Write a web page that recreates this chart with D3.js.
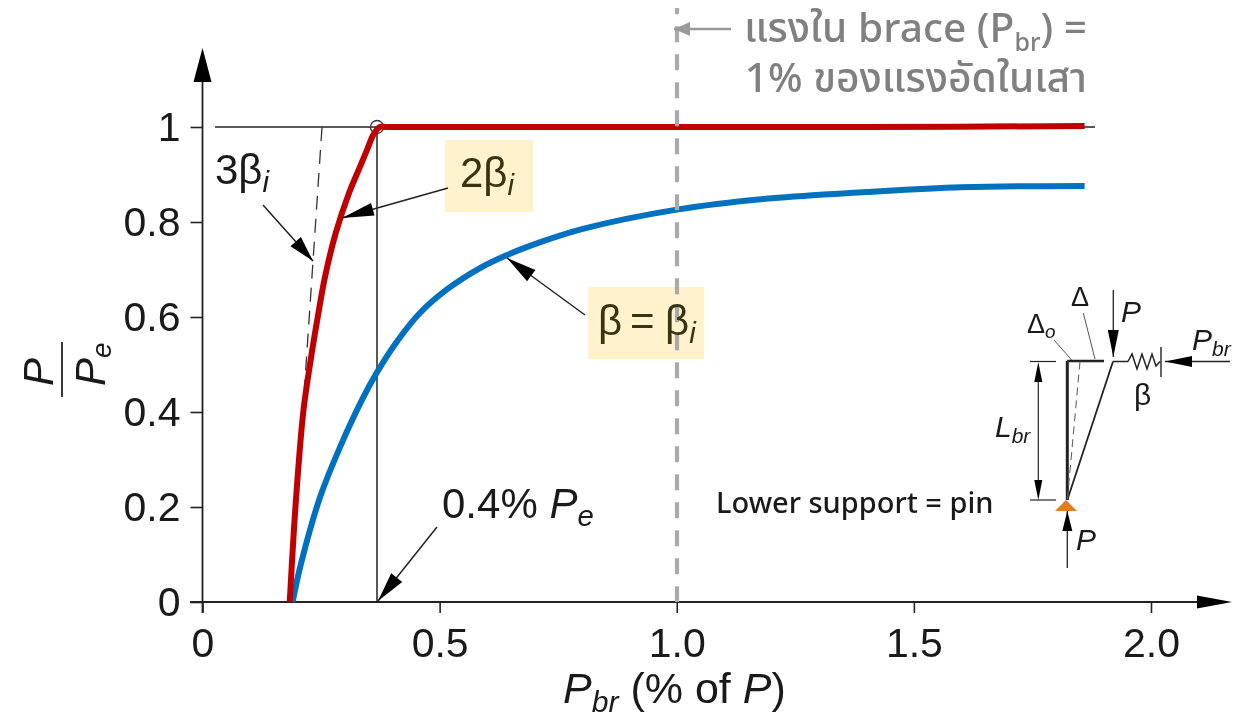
<!DOCTYPE html>
<html><head><meta charset="utf-8">
<script src="https://cdn.jsdelivr.net/npm/d3@7/dist/d3.min.js"></script>
<style>html,body{margin:0;padding:0;background:#fff}svg{display:block;filter:blur(.35px)}text{font-family:"Liberation Sans",Arial,sans-serif;fill:#1a1a1a}.th{font-family:"Noto Sans","Noto Sans Thai",Lato,sans-serif}.lat{font-family:"Noto Sans",Lato,sans-serif}</style>
</head><body><svg id="c" width="1247" height="718"></svg>
<script>
const xTicks=[0,0.5,1.0,1.5,2.0];
const xTickLabels=["0","0.5","1.0","1.5","2.0"];
const yTicks=[0,0.2,0.4,0.6,0.8,1];
const yTickLabels=["0","0.2","0.4","0.6","0.8","1"];
const redX=[0.184,0.196,0.2125,0.228,0.243,0.258,0.281,0.309,0.332,0.347,0.361,0.374,0.39,0.6,1.0,1.4,1.86];
const redY=[0,0.2,0.40,0.509,0.60,0.683,0.777,0.861,0.916,0.952,0.985,1,1,1,1,1,1.002];
const blueX=[0.19,0.208,0.248,0.29,0.336,0.367,0.409,0.458,0.514,0.585,0.641,0.711,0.8,1.0,1.2,1.4,1.6,1.86];
const blueY=[0,0.082,0.221,0.326,0.425,0.482,0.547,0.608,0.657,0.703,0.73,0.757,0.785,0.826,0.85,0.863,0.873,0.876];
const dashed3X=[0.252,0.215];
const dashed3Y=[1,0.45];

const svg=d3.select("#c");
const x=d3.scaleLinear().domain([0,2]).range([202.5,1151]);
const y=d3.scaleLinear().domain([0,1]).range([602,127]);
const ink="#222", big=42, olive="#3a3210";
function ln(x1,y1,x2,y2,w,c,dash){const l=svg.append("line").attr("x1",x1).attr("y1",y1).attr("x2",x2).attr("y2",y2).attr("stroke",c||ink).attr("stroke-width",w||1.5);if(dash)l.attr("stroke-dasharray",dash);return l;}
function head(x1,y1,x2,y2,len,hw,c){const a=Math.atan2(y2-y1,x2-x1),bx=x2-len*Math.cos(a),by=y2-len*Math.sin(a),nx=-Math.sin(a)*hw,ny=Math.cos(a)*hw;
 svg.append("path").attr("d",d3.line()([[x2,y2],[bx+nx,by+ny],[bx-nx,by-ny]])+"Z").attr("fill",c||"#000");}
function arrow(x1,y1,x2,y2,w,len,hw,c){ln(x1,y1,x2,y2,w,c);head(x1,y1,x2,y2,len,hw,c);}
function txt(px,py,parts,size,anchor,fill){const t=svg.append("text").attr("x",px).attr("y",py).attr("font-size",size).attr("text-anchor",anchor||"start");if(fill)t.style("fill",fill);
 parts.forEach(p=>{const s=t.append("tspan").text(p.t);if(p.i)s.attr("font-style","italic");if(p.sub)s.attr("font-size",size*0.7).attr("dy",size*0.2);if(p.up)s.attr("dy",-size*0.2);if(fill)s.style("fill",fill);});return t;}

// highlight boxes
svg.append("rect").attr("x",445).attr("y",140).attr("width",88).attr("height",72).attr("fill","#FFF2CC");
svg.append("rect").attr("x",588).attr("y",287).attr("width",116).attr("height",72).attr("fill","#FFF2CC");

// guides
ln(215,y(1),1095,y(1),1.5);
ln(377,y(1),377,y(0),1.5);
svg.append("path").attr("d",d3.line().x(d=>x(d[0])).y(d=>y(d[1]))(d3.zip(dashed3X,dashed3Y))).attr("fill","none").attr("stroke","#333").attr("stroke-width",1.3).attr("stroke-dasharray","14 9");
svg.append("circle").attr("cx",377).attr("cy",y(1)).attr("r",6.5).attr("fill","none").attr("stroke","#333").attr("stroke-width",1.3);

// axes
const gx=svg.append("g").attr("transform",`translate(0,${y(0)})`).call(d3.axisBottom(x).tickValues(xTicks).tickFormat((d,i)=>xTickLabels[i]).tickSize(11).tickPadding(15));
const gy=svg.append("g").attr("transform",`translate(${x(0)},0)`).call(d3.axisLeft(y).tickValues(yTicks).tickFormat((d,i)=>yTickLabels[i]).tickSize(12).tickPadding(10));
[gx,gy].forEach(g=>{g.select(".domain").remove();g.selectAll("line").attr("stroke",ink).attr("stroke-width",1.6);g.selectAll("text").attr("font-size",41).attr("font-family","Liberation Sans").attr("fill","#1a1a1a");});
ln(202.5,613,202.5,60,1.8); head(202.5,90,202.5,48,34,9);
ln(190,602,1210,602,1.8); head(1190,602,1232,602,35,6.5);

// curves and reference line
const cl=d3.line().x(d=>x(d[0])).y(d=>y(d[1])).curve(d3.curveCatmullRom.alpha(0.5));
svg.append("path").attr("d",cl(d3.zip(blueX,blueY))).attr("fill","none").attr("stroke","#0070C0").attr("stroke-width",6);
svg.append("path").attr("d",cl(d3.zip(redX,redY))).attr("fill","none").attr("stroke","#C00000").attr("stroke-width",6);
ln(677,8,677,602,4.2,"#aaaaaa","16 12").attr("stroke-dashoffset",9.7);

// axis titles
txt(563,703,[{t:"P",i:1},{t:"br",i:1,sub:1},{t:" (% of ",up:1},{t:"P",i:1},{t:")"}],43);
const yl=svg.append("g").attr("transform","translate(0,386) rotate(-90)");
yl.append("text").attr("x",0).attr("y",53).attr("font-size",big).attr("font-style","italic").text("P");
yl.append("line").attr("x1",-11).attr("x2",44).attr("y1",62).attr("y2",62).attr("stroke",ink).attr("stroke-width",1.8);
const pe=yl.append("text").attr("x",0).attr("y",105).attr("font-size",big).attr("font-style","italic");
pe.append("tspan").text("P");pe.append("tspan").text("e").attr("font-size",28).attr("dy",6);

// annotations
txt(215,184,[{t:"3β"},{t:"i",i:1,sub:1}],big);
arrow(263,205,313,261,1.5,26,7);
txt(460,187,[{t:"2β"},{t:"i",i:1,sub:1}],big,"start",olive);
arrow(448,188,342,218,1.5,32,6.5);
txt(598,335,[{t:"β"}],big,"start",olive);
txt(630,335,[{t:"="}],big,"start",olive);
txt(665,335,[{t:"β"},{t:"i",i:1,sub:1}],big,"start",olive);
arrow(585,315,507,258,1.5,30,7);
txt(442,518,[{t:"0.4% "},{t:"P",i:1},{t:"e",i:1,sub:1}],big);
arrow(437,527,378,601,1.5,30,7);

// Thai note
const grey="#808080";
const note=svg.append("text").attr("class","th").attr("x",1087).attr("y",42).attr("text-anchor","end").attr("font-size",40.7).attr("font-weight",500).style("fill",grey);
note.append("tspan").text("แรงใน brace (P").style("fill",grey);
note.append("tspan").text("br").attr("font-size",25).attr("dy",9).style("fill",grey);
note.append("tspan").text(") =").attr("dy",-9).style("fill",grey);
svg.append("text").attr("class","th").attr("x",1087).attr("y",92).attr("text-anchor","end").attr("font-size",40.7).attr("font-weight",500).style("fill",grey).text("1% ของแรงอัดในเสา");
arrow(731,29,674,29,2.4,16,7,"#999");
svg.append("text").attr("class","lat").attr("x",716).attr("y",513).attr("font-size",29).attr("font-weight",500).text("Lower support = pin");

// column sketch
ln(1067.3,361,1067.3,500,3);
ln(1067.3,361,1104,361,2.4);
ln(1030,361.5,1056,361.5,1.2);ln(1030,500,1056,500,1.2);
ln(1038.3,375,1038.3,490,1.2);head(1038.3,385,1038.3,362,20,4);head(1038.3,480,1038.3,500,20,4);
ln(1067.3,500,1113,361.5,1.8);
ln(1080,361.5,1067.3,500,1.1,"#666","8 5");
ln(1113,361.5,1128,361.5,1.5);
svg.append("path").attr("d",d3.line()([[1128,361.5],[1132,354],[1137,369],[1142,354],[1147,369],[1152,354],[1156,366],[1160,361.5]])).attr("fill","none").attr("stroke",ink).attr("stroke-width",1.5);
ln(1161,347,1161,377,1.4);
arrow(1230,361.5,1165,361.5,1.3,27,5.5);
arrow(1113.3,290,1113.3,357,1.3,27,5.5);
arrow(1067.3,568,1067.3,511,1.3,20,5);
svg.append("path").attr("d",d3.line()([[1066,500],[1055,511],[1077,511]])+"Z").attr("fill","#E07B28");
ln(1054,340,1071.7,360,1,"#555");ln(1083.3,313,1095,359,1,"#555");
txt(1071,306,[{t:"Δ"}],27);
txt(1027,333,[{t:"Δ"},{t:"o",i:1,sub:1}],27);
txt(1121,322,[{t:"P",i:1}],30);
txt(1192,350,[{t:"P",i:1},{t:"br",i:1,sub:1}],30);
txt(1134,405,[{t:"β"}],30);
txt(995,437,[{t:"L",i:1},{t:"br",i:1,sub:1}],30);
txt(1076,550,[{t:"P",i:1}],30);
</script></body></html>
